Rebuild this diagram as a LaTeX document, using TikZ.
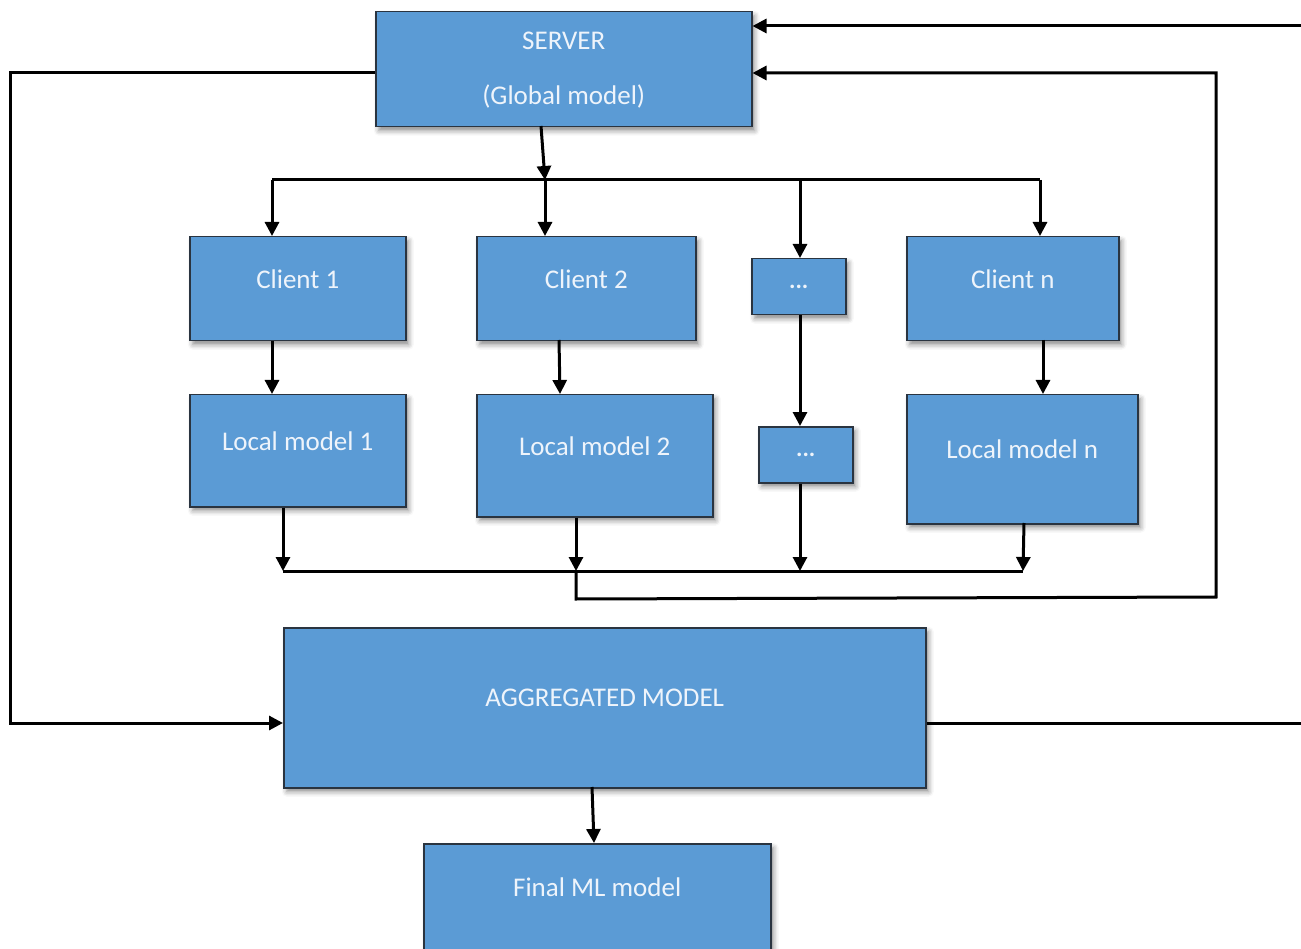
\documentclass[tikz,border=0pt]{standalone}
\usepackage{fontspec}
\setmainfont{Carlito}
\usetikzlibrary{arrows.meta,shadows.blur}
\definecolor{boxblue}{HTML}{5B9BD5}
\definecolor{boxline}{HTML}{2A3440}
\definecolor{txtcol}{HTML}{EEF4FB}
\tikzset{
  box/.style={draw=boxline, fill=boxblue, line width=1.5pt, anchor=north west, inner sep=0pt,
    blur shadow={shadow xshift=3pt, shadow yshift=-4pt, shadow blur radius=5pt, shadow opacity=45}},
  txt/.style={text=txtcol, font=\fontsize{27}{30}\selectfont, inner sep=0pt},
  dots/.style={txt, font=\bfseries\fontsize{24}{26}\selectfont},
  conn/.style={line width=3pt, draw=black},
  arr/.style={conn, -{Triangle[length=14pt,width=14pt]}},
}
\begin{document}
\begin{tikzpicture}[x=1pt,y=-1pt]
\useasboundingbox (0,0) rectangle (1301,949);
% boxes
\node[box, minimum width=376pt, minimum height=115pt,
  label={[txt,yshift=28pt]center:SERVER},
  label={[txt,yshift=-27pt]center:(Global model)}] (srv) at (375,11) {};
\node[box, minimum width=216pt, minimum height=104pt, label={[txt,yshift=10pt]center:Client 1}] (c1) at (189,236) {};
\node[box, minimum width=219pt, minimum height=104pt, label={[txt,yshift=10pt]center:Client 2}] (c2) at (476,236) {};
\node[box, minimum width=94pt, minimum height=56pt, label={[dots]center:...}] (cd) at (751,258) {};
\node[box, minimum width=212pt, minimum height=104pt, label={[txt,yshift=10pt]center:Client n}] (cn) at (906,236) {};
\node[box, minimum width=216pt, minimum height=112pt, label={[txt,yshift=10pt]center:Local model 1}] (l1) at (189,394) {};
\node[box, minimum width=236pt, minimum height=122pt, label={[txt,yshift=10pt]center:Local model 2}] (l2) at (476,394) {};
\node[box, minimum width=94pt, minimum height=56pt, label={[dots]center:...}] (ld) at (758,426) {};
\node[box, minimum width=231pt, minimum height=129pt, label={[txt,yshift=10pt]center:Local model n}] (ln) at (906,394) {};
\node[box, minimum width=642pt, minimum height=160pt, label={[txt,yshift=10pt]center:AGGREGATED MODEL}] (agg) at (283,627) {};
\node[box, minimum width=347pt, minimum height=140pt, label={[txt,yshift=27pt]center:Final ML model}] (fin) at (423,843) {};
% coordinates
\coordinate (sb) at (541,126);
\coordinate (b1) at (545,180);
\coordinate (bl) at (272,180);
\coordinate (bd) at (800,180);
\coordinate (br) at (1040,180);
\coordinate (c2b) at (559,340);
\coordinate (l2t) at (560,394);
\coordinate (cnb) at (1043,340);
\coordinate (lnt) at (1043,394);
\coordinate (m2) at (283,571);
\coordinate (mm) at (576,571);
\coordinate (md) at (800,571);
\coordinate (mr) at (1023,571);
\coordinate (lnb) at (1024,523);
\coordinate (topR) at (1301,26);
\coordinate (aggR) at (1301,723);
\coordinate (ab) at (592,787);
\coordinate (ft) at (594,843);
% server to bus
\draw[arr] (sb) -- (b1);
\draw[conn] (bl) -- (br);
\draw[arr] (bl) -- (c1.north -| bl);
\draw[arr] (b1) -- (c2.north -| b1);
\draw[arr] (bd) -- (cd.north -| bd);
\draw[arr] (br) -- (cn.north -| br);
% client to local
\draw[arr] (c1.south -| bl) -- (l1.north -| bl);
\draw[arr] (c2b) -- (l2t);
\draw[arr] (cd.south -| bd) -- (ld.north -| bd);
\draw[arr] (cnb) -- (lnt);
% local to bus
\draw[arr] (l1.south -| m2) -- (m2);
\draw[arr] (l2.south -| mm) -- (mm);
\draw[arr] (ld.south -| bd) -- (md);
\draw[arr] (lnb) -- (mr);
\draw[conn] (m2) -- (mr);
% feedback to server
\draw[arr] (mm) -- (576,599) -- (1216,597) -- (1216,73) -- (srv.east |- 0,73);
\draw[arr] (topR) -- (srv.east |- topR);
% server to aggregated
\draw[arr] (srv.west |- 0,73) -- (10,73) -- (10,723) -- (agg.west |- 0,723);
\draw[conn] (agg.east |- aggR) -- (aggR);
% aggregated to final
\draw[arr] (ab) -- (ft);
\end{tikzpicture}
\end{document}
